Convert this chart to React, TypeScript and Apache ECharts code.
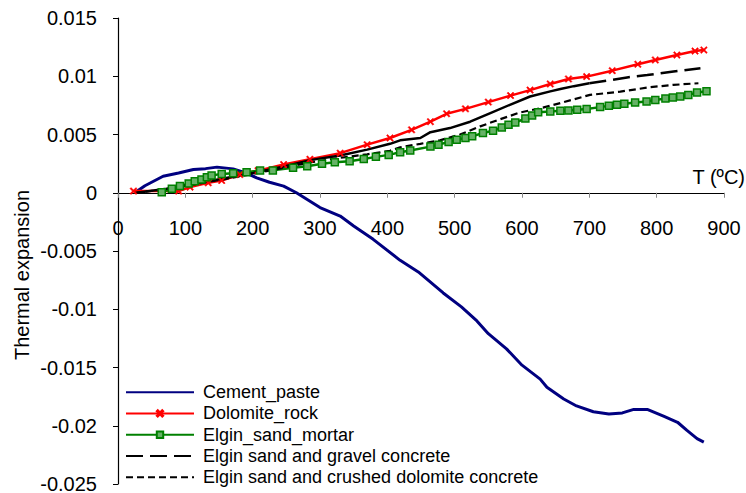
import React, { useEffect, useRef } from "react";
import * as echarts from "echarts";

const FONT = 'Arial, "Liberation Sans", sans-serif';

const xTicks = [0, 100, 200, 300, 400, 500, 600, 700, 800, 900];
const yMin = -0.025;
const yMax = 0.015;

const names = [
  "Cement_paste",
  "Dolomite_rock",
  "Elgin_sand_mortar",
  "Elgin sand and gravel concrete",
  "Elgin sand and crushed dolomite concrete",
];

const cementT = [25, 40, 67, 90, 112, 130, 147, 171, 190, 206, 225, 246, 265, 300, 330, 350, 379, 419, 446, 483, 510, 533, 550, 577, 600, 627, 637, 662, 681, 706, 729, 749, 766, 786, 811, 831, 845, 860, 870];
const cementV = [0, 0.0006, 0.00142, 0.0017, 0.002, 0.00207, 0.0022, 0.00205, 0.0017, 0.00128, 0.0009, 0.00057, 0, -0.00127, -0.002, -0.00285, -0.004, -0.0058, -0.0068, -0.0086, -0.0098, -0.011, -0.0121, -0.0134, -0.0148, -0.016, -0.0167, -0.0177, -0.0183, -0.0188, -0.019, -0.0189, -0.0186, -0.0186, -0.0192, -0.0197, -0.0204, -0.0211, -0.0214];

const dolomiteT = [23, 90, 107, 134, 154, 181, 208, 246, 285, 330, 370, 404, 436, 464, 488, 516, 550, 583, 612, 642, 669, 696, 734, 772, 798, 830, 857, 870];
const dolomiteV = [0.00014, 0.00014, 0.00048, 0.00085, 0.00105, 0.00156, 0.0019, 0.00242, 0.00287, 0.0034, 0.00413, 0.0047, 0.0054, 0.0061, 0.00678, 0.0072, 0.00778, 0.00834, 0.00881, 0.00934, 0.00977, 0.00997, 0.01048, 0.01103, 0.0114, 0.01182, 0.01216, 0.01225];

const mortarT = [65, 80, 92, 105, 114, 124, 132, 139, 154, 171, 191, 211, 230, 260, 281, 303, 322, 344, 365, 383, 402, 419, 434, 464, 476, 491, 503, 516, 526, 542, 557, 570, 580, 590, 605, 615, 624, 642, 657, 669, 682, 696, 716, 729, 741, 752, 768, 785, 798, 813, 824, 835, 847, 860, 874];
const mortarV = [0.00005, 0.00034, 0.00057, 0.0008, 0.00099, 0.00114, 0.00133, 0.00148, 0.00162, 0.00167, 0.00176, 0.0019, 0.00192, 0.00214, 0.00227, 0.00248, 0.00262, 0.0027, 0.0029, 0.00308, 0.00325, 0.00347, 0.00362, 0.00396, 0.00413, 0.00436, 0.00456, 0.0047, 0.00484, 0.00513, 0.00532, 0.0056, 0.00584, 0.00603, 0.00637, 0.00663, 0.00692, 0.00698, 0.00703, 0.00706, 0.00712, 0.00718, 0.00735, 0.00746, 0.00755, 0.00763, 0.00774, 0.00783, 0.00797, 0.00809, 0.00817, 0.00826, 0.0084, 0.0086, 0.00872];

// gravel concrete: first (dense) part appears solid, later part long-dashed
const gravelSolidT = [28, 72, 122, 201, 250, 285, 330, 370, 404, 419, 449, 464, 493, 523, 553, 582, 612, 642, 657, 677, 700];
const gravelSolidV = [0, 0.00034, 0.00085, 0.0017, 0.0023, 0.0028, 0.0032, 0.0037, 0.0042, 0.0045, 0.0047, 0.0052, 0.00555, 0.0061, 0.00684, 0.00755, 0.00826, 0.0087, 0.0089, 0.00915, 0.0094];
const gravelDashT = [700, 726, 756, 786, 825, 865];
const gravelDashV = [0.0094, 0.00962, 0.0099, 0.0101, 0.0104, 0.01068];

const crushedT = [25, 72, 122, 200, 250, 285, 330, 370, 404, 419, 449, 478, 508, 538, 568, 597, 627, 657, 701, 746, 790, 825, 862];
const crushedV = [0, 0.0003, 0.0008, 0.0016, 0.0022, 0.0026, 0.003, 0.0033, 0.0036, 0.0039, 0.0042, 0.0045, 0.005, 0.0057, 0.00632, 0.00689, 0.00725, 0.0077, 0.0084, 0.00868, 0.00906, 0.00926, 0.0094];

const pair = (t: number[], v: number[]) => t.map((x, i) => [x, v[i]]);

const starPath =
  "path://M0,1.5L1.5,0L5,3.5L8.5,0L10,1.5L6.5,5L10,8.5L8.5,10L5,6.5L1.5,10L0,8.5L3.5,5Z";

const GRID = { left: 118, right: 22, top: 18, bottom: 9 };
const CH = 493;

export default function App() {
  const ref = useRef<HTMLDivElement>(null);
  useEffect(() => {
    if (!ref.current) return;
    const chart = echarts.init(ref.current, undefined, { renderer: "svg" });
    const gridH = CH - GRID.top - GRID.bottom;
    const zeroOffset = -(gridH * (0 - yMin)) / (yMax - yMin);
    const hideSym = { color: "rgba(0,0,0,0)", borderColor: "rgba(0,0,0,0)", borderWidth: 0, opacity: 0 };
    chart.setOption({
      animation: false,
      backgroundColor: "#fff",
      grid: { ...GRID, containLabel: false, outerBoundsMode: "none" },
      xAxis: {
        type: "value",
        min: xTicks[0],
        max: xTicks[xTicks.length - 1],
        interval: 100,
        position: "bottom",
        offset: zeroOffset,
        splitLine: { show: false },
        axisLine: { onZero: false, lineStyle: { color: "#000", width: 1.2 } },
        axisTick: { show: true, length: 5, lineStyle: { color: "#888" } },
        axisLabel: { fontSize: 20, color: "#000", fontFamily: FONT, margin: 25 },
      },
      yAxis: {
        type: "value",
        min: yMin,
        max: yMax,
        interval: 0.005,
        splitLine: { show: false },
        axisLine: { show: true, lineStyle: { color: "#000", width: 1.2 } },
        axisTick: { show: true, length: 5, lineStyle: { color: "#000" } },
        axisLabel: { fontSize: 20, lineHeight: 16, color: "#000", fontFamily: FONT, margin: 21 },
      },
      legend: {
        orient: "vertical",
        left: 125,
        top: 381.5,
        padding: 0,
        itemWidth: 68,
        itemHeight: 8,
        itemGap: 0,
        selectedMode: false,
        data: [
          { name: names[0], itemStyle: hideSym },
          { name: names[1] },
          { name: names[2] },
          { name: names[3], itemStyle: hideSym },
          { name: names[4], itemStyle: hideSym },
        ],
        textStyle: { fontSize: 18, lineHeight: 21.3, color: "#000", fontFamily: FONT, padding: [0, 0, 0, 4] },
      },
      graphic: [
        {
          type: "text",
          x: 745,
          y: 177,
          style: { text: "T (ºC)", fontSize: 20, fontFamily: FONT, fill: "#000", align: "right", verticalAlign: "middle" },
        },
        {
          type: "text",
          x: 22,
          y: 275,
          rotation: Math.PI / 2,
          style: { text: "Thermal expansion", fontSize: 20, fontFamily: FONT, fill: "#000", align: "center", verticalAlign: "middle" },
        },
      ],
      series: [
        {
          name: names[0],
          type: "line",
          data: pair(cementT, cementV),
          symbol: "none",
          lineStyle: { color: "#000080", width: 3 },
          itemStyle: { color: "#000080" },
        },
        {
          name: names[1],
          type: "line",
          data: pair(dolomiteT, dolomiteV),
          symbol: starPath,
          symbolSize: 7,
          lineStyle: { color: "#ff0000", width: 2.5 },
          itemStyle: { color: "#ff0000", borderColor: "#ff0000", borderWidth: 0.5 },
        },
        {
          name: names[2],
          type: "line",
          data: pair(mortarT, mortarV),
          symbol: "rect",
          symbolSize: 7,
          lineStyle: { color: "#008000", width: 2.5 },
          itemStyle: { color: "#66b266", borderColor: "#008000", borderWidth: 1.5 },
        },
        {
          name: names[3],
          type: "line",
          data: pair(gravelDashT, gravelDashV),
          symbol: "none",
          lineStyle: { color: "#000", width: 2.5, type: [17, 7] },
          itemStyle: { color: "#000" },
        },
        {
          name: names[3],
          type: "line",
          data: pair(gravelSolidT, gravelSolidV),
          symbol: "none",
          lineStyle: { color: "#000", width: 2.5 },
          itemStyle: { color: "#000" },
        },
        {
          name: names[4],
          type: "line",
          data: pair(crushedT, crushedV),
          symbol: "none",
          lineStyle: { color: "#000", width: 2.2, type: [7, 4] },
          itemStyle: { color: "#000" },
        },
      ],
    });
    return () => chart.dispose();
  }, []);
  return (
    <div
      ref={ref}
      style={{ position: "absolute", left: 0, top: 0, width: 746, height: 493 }}
    />
  );
}
